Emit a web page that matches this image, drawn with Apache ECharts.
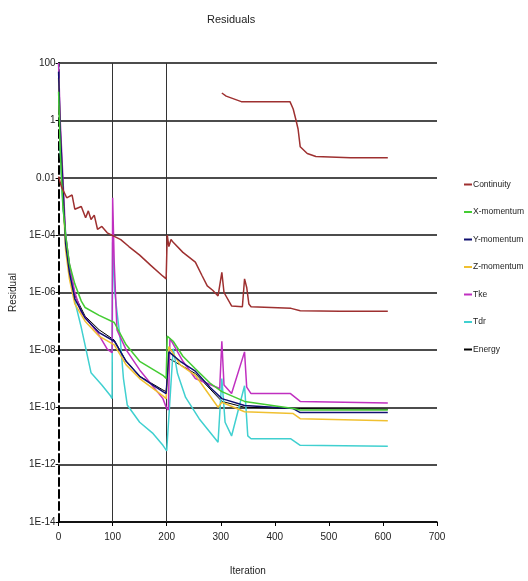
<!DOCTYPE html>
<html>
<head>
<meta charset="utf-8">
<script src="https://cdn.jsdelivr.net/npm/echarts@6/dist/echarts.min.js"></script>
<style>
  html, body { margin: 0; padding: 0; background: #fff; }
  #chart { width: 528px; height: 581px; }
</style>
</head>
<body>
<div id="chart"></div>
<script>
// residual history, [iteration, residual]
const continuity = [[0,1.1e-2],[5,5e-3],[15,2e-3],[25,2.5e-3],[30,8e-4],[42,1e-3],[50,4e-4],[55,7e-4],[60,3.5e-4],[66,5e-4],[72,1.6e-4],[80,2e-4],[90,1.2e-4],[103,9e-5],[115,7e-5],[130,4e-5],[150,2e-5],[170,9e-6],[193,3.7e-6],[199,3e-6],[201,1e-4],[204,4e-5],[208,7e-5],[212,5.6e-5],[230,2.5e-5],[253,1.15e-5],[265,4e-6],[275,1.7e-6],[285,1.2e-6],[295,7.6e-7],[302,5e-6],[306,1e-6],[320,3.4e-7],[340,3.2e-7],[344,3e-6],[348,1.5e-6],[352,4e-7],[356,3.2e-7],[430,2.8e-7],[447,2.3e-7],[520,2.2e-7],[609,2.2e-7]];
const continuityB = [[302,9],[310,7],[338,4.5],[428,4.5],[434,2.5],[439,1.05],[443,0.5],[447,0.12],[460,7e-2],[476,5.5e-2],[540,5e-2],[609,5e-2]];
const xMomentum = [[0,10],[3,1e-1],[8,1e-3],[13,1e-4],[20,1e-5],[30,2e-6],[42,5e-7],[49,3e-7],[75,1.6e-7],[103,9e-8],[125,1.5e-8],[150,4e-9],[193,1.3e-9],[199,1e-9],[201,3e-8],[212,2e-8],[230,6e-9],[253,2.2e-9],[280,7e-10],[302,3.5e-10],[344,1.6e-10],[434,9e-11],[447,8e-11],[609,8e-11]];
const yMomentum = [[0,50],[3,5e-1],[8,5e-3],[13,5e-5],[20,5e-6],[30,6e-7],[49,1.3e-7],[75,4e-8],[103,2e-8],[125,4e-9],[150,1.2e-9],[193,3.5e-10],[199,3e-10],[204,8.5e-9],[225,4e-9],[253,1.8e-9],[280,5e-10],[302,2e-10],[344,1.15e-10],[434,9e-11],[447,6.5e-11],[609,6.5e-11]];
const zMomentum = [[0,30],[3,3e-1],[8,3e-3],[13,3e-5],[20,3e-6],[30,4e-7],[49,1e-7],[75,3e-8],[103,1.5e-8],[125,3e-9],[150,1e-9],[193,2.5e-10],[199,2e-10],[204,1.3e-8],[225,3e-9],[253,1.3e-9],[295,1e-10],[302,1.5e-10],[344,7e-11],[434,6e-11],[447,4e-11],[609,3.4e-11]];
const tke = [[0,100],[3,1],[8,1e-2],[13,1e-4],[20,1e-5],[30,1e-6],[42,2e-7],[72,4e-8],[90,1.07e-8],[99,8e-9],[100,2e-3],[103,1e-5],[108,5e-8],[125,1e-8],[150,2e-9],[193,2e-10],[199,1e-10],[203,8e-11],[206,2.5e-8],[230,4e-9],[253,1e-9],[298,4.5e-10],[302,2e-8],[306,6e-10],[320,3e-10],[344,8.5e-9],[348,5e-10],[356,3e-10],[429,3e-10],[447,1.6e-10],[609,1.4e-10]];
const tdr = [[0,100],[3,1e-1],[8,1e-3],[18,1.3e-5],[30,5e-7],[42,6e-8],[60,1.6e-9],[80,6e-10],[96,2.5e-10],[99,2e-10],[100,5.6e-5],[104,1e-6],[110,1e-7],[114,2.5e-8],[120,1e-9],[127,1.2e-10],[150,3e-11],[175,1.2e-11],[193,4.7e-12],[200,3e-12],[212,1.1e-8],[220,1.5e-9],[235,2.2e-10],[260,4e-11],[295,6e-12],[302,1e-9],[308,3e-11],[320,1e-11],[344,5.6e-10],[350,1e-11],[356,8e-12],[429,8e-12],[447,4.7e-12],[609,4.4e-12]];
const energy = [[0,10],[3,1e-1],[8,1e-3],[13,1e-4],[20,1e-5],[30,8e-7],[49,1.5e-7],[75,5e-8],[103,2.2e-8],[125,4e-9],[150,1.2e-9],[193,4e-10],[199,3.5e-10],[204,5e-9],[225,3e-9],[253,1.5e-9],[302,1.6e-10],[344,1e-10],[434,9e-11],[447,9e-11],[609,8.5e-11]];

const names = ['Continuity', 'X-momentum', 'Y-momentum', 'Z-momentum', 'Tke', 'Tdr', 'Energy'];
const colors = ['#9e3030', '#44cc33', '#101070', '#f0c030', '#c030c0', '#40d0d0', '#000000'];
const dataList = [continuity, xMomentum, yMomentum, zMomentum, tke, tdr, energy];
const yLabels = {'2': '100', '0': '1', '-2': '0.01', '-4': '1E-04', '-6': '1E-06', '-8': '1E-08', '-10': '1E-10', '-12': '1E-12', '-14': '1E-14'};

const chart = echarts.init(document.getElementById('chart'));

const series = dataList.map((d, i) => ({
  name: names[i],
  type: 'line',
  data: d,
  symbol: 'none',
  lineStyle: {width: i == 6 ? 1 : 1.5, color: colors[i]},
  itemStyle: {color: colors[i]},
  z: i == 6 ? 2 : 10 - i
}));
series.push({
  name: 'Continuity2',
  type: 'line',
  data: continuityB,
  symbol: 'none',
  lineStyle: {width: 1.5, color: colors[0]},
  itemStyle: {color: colors[0]}
});
// vertical lines at 100 and 200
series[6].markLine = {
  silent: true,
  symbol: 'none',
  label: {show: false},
  lineStyle: {color: '#333', width: 1, type: 'solid'},
  data: [{xAxis: 100}, {xAxis: 200}]
};

chart.setOption({
  animation: false,
  backgroundColor: '#fff',
  textStyle: {fontFamily: 'Liberation Sans'},
  title: {
    text: 'Residuals',
    left: 202,
    top: 9,
    textStyle: {fontSize: 11, fontWeight: 'normal', color: '#222'}
  },
  legend: {
    orient: 'vertical',
    left: 464,
    top: 180,
    padding: 0,
    itemGap: 18.5,
    itemWidth: 8,
    itemHeight: 2,
    icon: 'rect',
    data: names,
    textStyle: {fontSize: 8.5, fontFamily: 'Liberation Sans', color: '#222', padding: [0, 0, 0, -4]}
  },
  grid: {left: 50, right: 91, top: 63, bottom: 57},
  xAxis: {
    type: 'value',
    min: 0,
    max: 700,
    interval: 100,
    name: 'Iteration',
    nameLocation: 'middle',
    nameGap: 44,
    nameTextStyle: {fontSize: 10, color: '#222'},
    axisLine: {lineStyle: {color: '#000', width: 1.5}},
    axisTick: {show: true, length: 4, lineStyle: {color: '#000'}},
    axisLabel: {fontSize: 10, color: '#222', margin: 10},
    splitLine: {show: false}
  },
  yAxis: {
    type: 'log',
    logBase: 100,
    min: 1e-14,
    max: 100,
    name: 'Residual',
    nameLocation: 'middle',
    nameGap: 38,
    nameTextStyle: {fontSize: 10, color: '#222'},
    axisLine: {show: true, lineStyle: {color: '#000', width: 2, type: 'dashed'}},
    axisTick: {show: true, length: 3, lineStyle: {color: '#000'}},
    axisLabel: {
      fontSize: 10,
      color: '#222',
      margin: 3,
      formatter: v => yLabels[String(Math.round(Math.log10(v)))] || ''
    },
    splitLine: {show: true, lineStyle: {color: '#111', width: 1.5}}
  },
  series: series
});
</script>
</body>
</html>
